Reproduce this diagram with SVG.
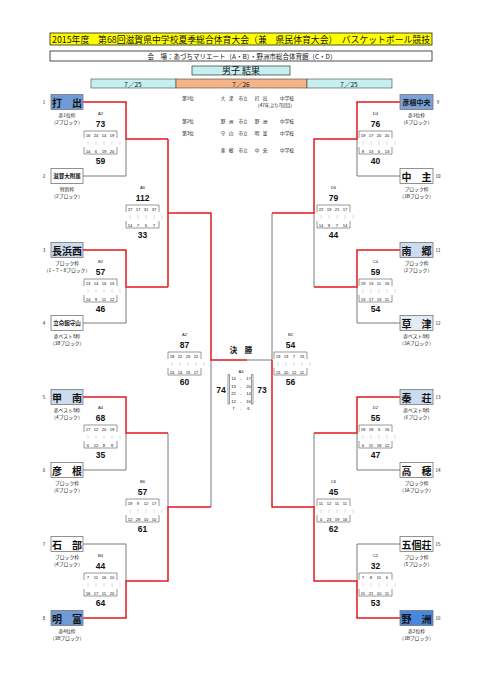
<svg xmlns="http://www.w3.org/2000/svg" width="481" height="680" viewBox="0 0 481 680">
<style>
text{font-family:"Noto Sans CJK JP","Liberation Sans",sans-serif;fill:#111;dominant-baseline:central}
.mid{text-anchor:middle}
.title{font-size:9px}
.venue{font-size:6.5px}
.res{font-size:9px}
.date{font-size:6.5px;text-anchor:middle}
.tb{font-size:10px;font-weight:bold;text-anchor:middle}
.ts{font-size:5.5px;font-weight:bold;text-anchor:middle}
.t7{font-size:7px;font-weight:bold;text-anchor:middle}
.sub{font-size:4.8px;text-anchor:middle}
.seed{font-size:4.5px;text-anchor:middle}
.sc{font-family:"Liberation Sans",Arial,sans-serif;font-size:8.5px;font-weight:bold;text-anchor:middle}
.q{font-family:"Liberation Sans",Arial,sans-serif;font-size:4.2px;text-anchor:middle}
.lb{font-family:"Liberation Sans",Arial,sans-serif;font-size:4.2px;text-anchor:middle}
.mk{font-family:"Liberation Sans",Arial,sans-serif;font-size:3.6px;text-anchor:middle;fill:#888}
.rk{font-size:4.6px;text-anchor:middle}
.box{stroke:#777;stroke-width:0.8}
.w{fill:#fff}
.lt{fill:#cddbee}
.bl{fill:#6f9bd8}
.br{fill:none;stroke:#555;stroke-width:0.6}
.red{fill:none;stroke:#e3191f;stroke-width:1.5}
.gry{fill:none;stroke:#6b6b6b;stroke-width:0.9}
</style>
<rect width="481" height="680" fill="#fff"/>
<g id="header">
<rect x="50" y="33" width="382" height="12" fill="#ffff00" stroke="#222" stroke-width="0.8"/>
<text class="title" x="52" y="39.2" textLength="378" lengthAdjust="spacingAndGlyphs">2015年度　第68回滋賀県中学校夏季総合体育大会（兼　県民体育大会）　バスケットボール競技</text>
<rect x="50" y="51" width="382" height="10" fill="#fff" stroke="#222" stroke-width="0.8"/>
<text class="venue mid" x="242" y="56">会　場：あづちマリエート（A・B）・野洲市総合体育館（C・D）</text>
<rect x="192" y="66" width="98" height="9" fill="#c6efef" stroke="#333" stroke-width="0.7"/>
<text class="res mid" x="241" y="70.5">男子  結果</text>
<rect x="91" y="79" width="85" height="9" fill="#c6efef" stroke="#444" stroke-width="0.6"/>
<rect x="176" y="79" width="131" height="9" fill="#f5b488" stroke="#444" stroke-width="0.6"/>
<rect x="307" y="79" width="85" height="9" fill="#c6efef" stroke="#444" stroke-width="0.6"/>
<text class="date" x="133" y="83.5">7／25</text>
<text class="date" x="241" y="83.5">7／26</text>
<text class="date" x="349" y="83.5">7／25</text>
</g>
<g id="ranking">
<text class="rk" x="188" y="98">第1位</text>
<text class="rk" y="98"><tspan x="223">大</tspan><tspan x="231">津</tspan><tspan x="243">市立</tspan><tspan x="257">打</tspan><tspan x="265">出</tspan><tspan x="287">中学校</tspan></text>
<text class="rk" x="275" y="105">（47年ぶり7回目）</text>
<text class="rk" x="188" y="121">第2位</text>
<text class="rk" y="121"><tspan x="223">野</tspan><tspan x="231">洲</tspan><tspan x="243">市立</tspan><tspan x="257">野</tspan><tspan x="265">洲</tspan><tspan x="287">中学校</tspan></text>
<text class="rk" x="188" y="133">第3位</text>
<text class="rk" y="133"><tspan x="223">守</tspan><tspan x="231">山</tspan><tspan x="243">市立</tspan><tspan x="257">明</tspan><tspan x="265">富</tspan><tspan x="287">中学校</tspan></text>
<text class="rk" y="150"><tspan x="223">彦</tspan><tspan x="231">根</tspan><tspan x="243">市立</tspan><tspan x="257">中</tspan><tspan x="265">央</tspan><tspan x="287">中学校</tspan></text>
</g>
<g id="connectors">
<path class="gry" d="M83,176H126V139M83,323H126V287M83,470H126V433M83,544H126V581M168,433V507M211,507V360M247,360H272"/>
<path class="gry" d="M400,176H357V139M400,323H357V287M400,470H357V433M400,544H357V581M314,213V287M272,213V360M314,433V507"/>
<path class="red" d="M83,102H126V139H168M83,250H126V287H168M168,139V287M168,213H211V360H247M83,397H126V433H168M83,618H126V581H168V507H211"/>
<path class="red" d="M400,102H357V139H314V213H272M400,250H357V287H314M400,397H357V433H314M400,618H357V581H314V507H272V360"/>
</g>
<g id="team-1"><text class="seed" x="44" y="102">1</text><rect class="box bl" x="51" y="94.5" width="32" height="15"/><text class="tb" x="67" y="102">打　出</text><text class="sub" x="67" y="114">赤1位枠</text><text class="sub" x="67" y="121">（2ブロック）</text></g>
<g id="team-2"><text class="seed" x="44" y="176">2</text><rect class="box w" x="51" y="168.5" width="32" height="15"/><text class="ts" x="67" y="176">滋賀大附属</text><text class="sub" x="67" y="188">特別枠</text><text class="sub" x="67" y="195">（2ブロック）</text></g>
<g id="team-3"><text class="seed" x="44" y="250">3</text><rect class="box lt" x="51" y="242.5" width="32" height="15"/><text class="tb" x="67" y="250">長浜西</text><text class="sub" x="67" y="262">ブロック枠</text><text class="sub" x="67" y="269" font-size="4.2">（1・7・8ブロック）</text></g>
<g id="team-4"><text class="seed" x="44" y="323">4</text><rect class="box w" x="51" y="315.5" width="32" height="15"/><text class="ts" x="67" y="323">立命館守山</text><text class="sub" x="67" y="335">赤ベスト8枠</text><text class="sub" x="67" y="342">（3Bブロック）</text></g>
<g id="team-5"><text class="seed" x="44" y="397">5</text><rect class="box lt" x="51" y="389.5" width="32" height="15"/><text class="tb" x="67" y="397">甲　南</text><text class="sub" x="67" y="409">赤ベスト8枠</text><text class="sub" x="67" y="416">（4ブロック）</text></g>
<g id="team-6"><text class="seed" x="44" y="470">6</text><rect class="box w" x="51" y="462.5" width="32" height="15"/><text class="tb" x="67" y="470">彦　根</text><text class="sub" x="67" y="482">ブロック枠</text><text class="sub" x="67" y="489">（6ブロック）</text></g>
<g id="team-7"><text class="seed" x="44" y="544">7</text><rect class="box w" x="51" y="536.5" width="32" height="15"/><text class="tb" x="67" y="544">石　部</text><text class="sub" x="67" y="556">ブロック枠</text><text class="sub" x="67" y="563">（4ブロック）</text></g>
<g id="team-8"><text class="seed" x="44" y="618">8</text><rect class="box bl" x="51" y="610.5" width="32" height="15"/><text class="tb" x="67" y="618">明　富</text><text class="sub" x="67" y="630">赤4位枠</text><text class="sub" x="67" y="637">（3Bブロック）</text></g>
<g id="team-9"><text class="seed" x="438" y="102">9</text><rect class="box" fill="#7ba1d6" x="400" y="94.5" width="33" height="15"/><text class="t7" x="416.5" y="102">彦根中央</text><text class="sub" x="416.5" y="114">赤3位枠</text><text class="sub" x="416.5" y="121">（6ブロック）</text></g>
<g id="team-10"><text class="seed" x="438" y="176">10</text><rect class="box w" x="400" y="168.5" width="33" height="15"/><text class="tb" x="416.5" y="176">中　主</text><text class="sub" x="416.5" y="188">ブロック枠</text><text class="sub" x="416.5" y="195">（3Bブロック）</text></g>
<g id="team-11"><text class="seed" x="438" y="250">11</text><rect class="box lt" x="400" y="242.5" width="33" height="15"/><text class="tb" x="416.5" y="250">南　郷</text><text class="sub" x="416.5" y="262">ブロック枠</text><text class="sub" x="416.5" y="269">（2ブロック）</text></g>
<g id="team-12"><text class="seed" x="438" y="323">12</text><rect class="box" fill="#e4ebf3" x="400" y="315.5" width="33" height="15"/><text class="tb" x="416.5" y="323">草　津</text><text class="sub" x="416.5" y="335">赤ベスト8枠</text><text class="sub" x="416.5" y="342">（3Aブロック）</text></g>
<g id="team-13"><text class="seed" x="438" y="397">13</text><rect class="box lt" x="400" y="389.5" width="33" height="15"/><text class="tb" x="416.5" y="397">秦　荘</text><text class="sub" x="416.5" y="409">赤ベスト8枠</text><text class="sub" x="416.5" y="416">（6ブロック）</text></g>
<g id="team-14"><text class="seed" x="438" y="470">14</text><rect class="box w" x="400" y="462.5" width="33" height="15"/><text class="tb" x="416.5" y="470">高　穂</text><text class="sub" x="416.5" y="482">ブロック枠</text><text class="sub" x="416.5" y="489">（3Aブロック）</text></g>
<g id="team-15"><text class="seed" x="438" y="544">15</text><rect class="box w" x="400" y="536.5" width="33" height="15"/><text class="tb" x="416.5" y="544">五個荘</text><text class="sub" x="416.5" y="556">ブロック枠</text><text class="sub" x="416.5" y="563">（5ブロック）</text></g>
<g id="team-16"><text class="seed" x="438" y="618">16</text><rect class="box" fill="#4a88de" x="400" y="610.5" width="33" height="15"/><text class="tb" x="416.5" y="618">野　洲</text><text class="sub" x="416.5" y="630">赤2位枠</text><text class="sub" x="416.5" y="637">（3Bブロック）</text></g>
<defs>
<g id="frame"><path class="br" d="M0,-1V-8H33V-1M0,8V15H33V8"/><text class="mk" y="3.5"><tspan x="4">|</tspan><tspan x="12">|</tspan><tspan x="20">|</tspan><tspan x="28">|</tspan><tspan x="36">|</tspan></text></g>
</defs>
<g id="match-L-A2" transform="translate(84,139)"><use href="#frame"/><text class="lb" x="16.5" y="-26">A2</text><text class="sc" x="16.5" y="-15">73</text><text class="q" y="-4.5"><tspan x="4">16</tspan><tspan x="12">24</tspan><tspan x="20">14</tspan><tspan x="28">19</tspan></text><text class="q" y="11.5"><tspan x="4">14</tspan><tspan x="12">6</tspan><tspan x="20">19</tspan><tspan x="28">20</tspan></text><text class="sc" x="16.5" y="22">59</text></g>
<g id="match-L-B2" transform="translate(84,287)"><use href="#frame"/><text class="lb" x="16.5" y="-26">B2</text><text class="sc" x="16.5" y="-15">57</text><text class="q" y="-4.5"><tspan x="4">13</tspan><tspan x="12">14</tspan><tspan x="20">15</tspan><tspan x="28">15</tspan></text><text class="q" y="11.5"><tspan x="4">14</tspan><tspan x="12">9</tspan><tspan x="20">11</tspan><tspan x="28">12</tspan></text><text class="sc" x="16.5" y="22">46</text></g>
<g id="match-L-A4" transform="translate(84,433)"><use href="#frame"/><text class="lb" x="16.5" y="-26">A4</text><text class="sc" x="16.5" y="-15">68</text><text class="q" y="-4.5"><tspan x="4">17</tspan><tspan x="12">12</tspan><tspan x="20">20</tspan><tspan x="28">19</tspan></text><text class="q" y="11.5"><tspan x="4">6</tspan><tspan x="12">12</tspan><tspan x="20">8</tspan><tspan x="28">9</tspan></text><text class="sc" x="16.5" y="22">35</text></g>
<g id="match-L-B4" transform="translate(84,581)"><use href="#frame"/><text class="lb" x="16.5" y="-26">B4</text><text class="sc" x="16.5" y="-15">44</text><text class="q" y="-4.5"><tspan x="4">7</tspan><tspan x="12">11</tspan><tspan x="20">16</tspan><tspan x="28">10</tspan></text><text class="q" y="11.5"><tspan x="4">16</tspan><tspan x="12">17</tspan><tspan x="20">11</tspan><tspan x="28">20</tspan></text><text class="sc" x="16.5" y="22">64</text></g>
<g id="match-L-A6" transform="translate(126,213)"><use href="#frame"/><text class="lb" x="16.5" y="-26">A6</text><text class="sc" x="16.5" y="-15">112</text><text class="q" y="-4.5"><tspan x="4">27</tspan><tspan x="12">17</tspan><tspan x="20">31</tspan><tspan x="28">37</tspan></text><text class="q" y="11.5"><tspan x="4">14</tspan><tspan x="12">7</tspan><tspan x="20">5</tspan><tspan x="28">7</tspan></text><text class="sc" x="16.5" y="22">33</text></g>
<g id="match-L-B6" transform="translate(126,507)"><use href="#frame"/><text class="lb" x="16.5" y="-26">B6</text><text class="sc" x="16.5" y="-15">57</text><text class="q" y="-4.5"><tspan x="4">19</tspan><tspan x="12">9</tspan><tspan x="20">12</tspan><tspan x="28">17</tspan></text><text class="q" y="11.5"><tspan x="4">12</tspan><tspan x="12">29</tspan><tspan x="20">10</tspan><tspan x="28">10</tspan></text><text class="sc" x="16.5" y="22">61</text></g>
<g id="match-L-semi" transform="translate(168,360)"><use href="#frame"/><text class="lb" x="16.5" y="-26">A2</text><text class="sc" x="16.5" y="-15">87</text><text class="q" y="-4.5"><tspan x="4">18</tspan><tspan x="12">22</tspan><tspan x="20">25</tspan><tspan x="28">22</tspan></text><text class="q" y="11.5"><tspan x="4">14</tspan><tspan x="12">14</tspan><tspan x="20">15</tspan><tspan x="28">17</tspan></text><text class="sc" x="16.5" y="22">60</text></g>
<g id="match-R-D4" transform="translate(359,139)"><use href="#frame"/><text class="lb" x="16.5" y="-26">D4</text><text class="sc" x="16.5" y="-15">76</text><text class="q" y="-4.5"><tspan x="4">19</tspan><tspan x="12">17</tspan><tspan x="20">20</tspan><tspan x="28">20</tspan></text><text class="q" y="11.5"><tspan x="4">8</tspan><tspan x="12">13</tspan><tspan x="20">6</tspan><tspan x="28">13</tspan></text><text class="sc" x="16.5" y="22">40</text></g>
<g id="match-R-C4" transform="translate(359,287)"><use href="#frame"/><text class="lb" x="16.5" y="-26">C4</text><text class="sc" x="16.5" y="-15">59</text><text class="q" y="-4.5"><tspan x="4">19</tspan><tspan x="12">13</tspan><tspan x="20">11</tspan><tspan x="28">16</tspan></text><text class="q" y="11.5"><tspan x="4">13</tspan><tspan x="12">17</tspan><tspan x="20">13</tspan><tspan x="28">11</tspan></text><text class="sc" x="16.5" y="22">54</text></g>
<g id="match-R-D2" transform="translate(359,433)"><use href="#frame"/><text class="lb" x="16.5" y="-26">D2</text><text class="sc" x="16.5" y="-15">55</text><text class="q" y="-4.5"><tspan x="4">18</tspan><tspan x="12">18</tspan><tspan x="20">3</tspan><tspan x="28">16</tspan></text><text class="q" y="11.5"><tspan x="4">6</tspan><tspan x="12">11</tspan><tspan x="20">18</tspan><tspan x="28">12</tspan></text><text class="sc" x="16.5" y="22">47</text></g>
<g id="match-R-C2" transform="translate(359,581)"><use href="#frame"/><text class="lb" x="16.5" y="-26">C2</text><text class="sc" x="16.5" y="-15">32</text><text class="q" y="-4.5"><tspan x="4">7</tspan><tspan x="12">8</tspan><tspan x="20">11</tspan><tspan x="28">6</tspan></text><text class="q" y="11.5"><tspan x="4">11</tspan><tspan x="12">21</tspan><tspan x="20">10</tspan><tspan x="28">11</tspan></text><text class="sc" x="16.5" y="22">53</text></g>
<g id="match-R-D6" transform="translate(317,213)"><use href="#frame"/><text class="lb" x="16.5" y="-26">D6</text><text class="sc" x="16.5" y="-15">79</text><text class="q" y="-4.5"><tspan x="4">22</tspan><tspan x="12">19</tspan><tspan x="20">21</tspan><tspan x="28">17</tspan></text><text class="q" y="11.5"><tspan x="4">14</tspan><tspan x="12">9</tspan><tspan x="20">7</tspan><tspan x="28">14</tspan></text><text class="sc" x="16.5" y="22">44</text></g>
<g id="match-R-C6" transform="translate(317,507)"><use href="#frame"/><text class="lb" x="16.5" y="-26">C6</text><text class="sc" x="16.5" y="-15">45</text><text class="q" y="-4.5"><tspan x="4">11</tspan><tspan x="12">12</tspan><tspan x="20">11</tspan><tspan x="28">11</tspan></text><text class="q" y="11.5"><tspan x="4">4</tspan><tspan x="12">23</tspan><tspan x="20">19</tspan><tspan x="28">16</tspan></text><text class="sc" x="16.5" y="22">62</text></g>
<g id="match-R-semi" transform="translate(274,360)"><use href="#frame"/><text class="lb" x="16.5" y="-26">B2</text><text class="sc" x="16.5" y="-15">54</text><text class="q" y="-4.5"><tspan x="4">19</tspan><tspan x="12">13</tspan><tspan x="20">7</tspan><tspan x="28">15</tspan></text><text class="q" y="11.5"><tspan x="4">13</tspan><tspan x="12">20</tspan><tspan x="20">12</tspan><tspan x="28">11</tspan></text><text class="sc" x="16.5" y="22">56</text></g>
<g id="final">
<text class="mid" x="241" y="349" font-size="7.5" font-weight="bold">決　勝</text>
<text class="lb" x="241" y="371">A4</text>
<path class="br" d="M230,374.5H228V404H230M251,374.5H253V404H251"/>
<path class="br" d="M229.5,375V403.5M251.5,375V403.5" stroke-width="0.4"/>
<text class="q" y="378"><tspan x="233.5">14</tspan><tspan x="241">-</tspan><tspan x="248.5">17</tspan></text>
<text class="q" y="385.5"><tspan x="233.5">13</tspan><tspan x="241">-</tspan><tspan x="248.5">20</tspan></text>
<text class="q" y="393"><tspan x="233.5">22</tspan><tspan x="241">-</tspan><tspan x="248.5">14</tspan></text>
<text class="q" y="400.5"><tspan x="233.5">12</tspan><tspan x="241">-</tspan><tspan x="248.5">16</tspan></text>
<text class="q" y="408"><tspan x="233.5">7</tspan><tspan x="241">-</tspan><tspan x="248.5">6</tspan></text>
<text class="sc" x="221" y="390">74</text>
<text class="sc" x="262" y="390">73</text>
</g>
</svg>
